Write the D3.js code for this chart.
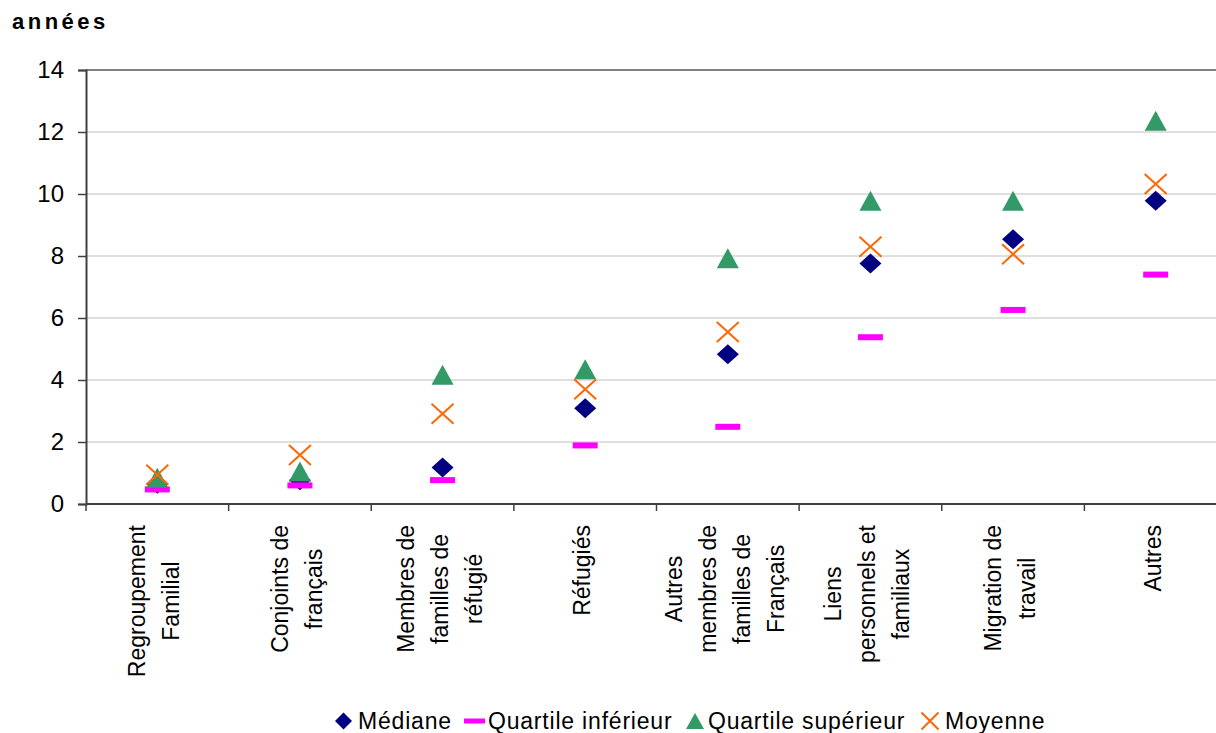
<!DOCTYPE html>
<html><head><meta charset="utf-8">
<script src="https://cdn.jsdelivr.net/npm/d3@7"></script>
<style>
html,body{margin:0;padding:0;background:#fff;}
svg{display:block;font-family:"Liberation Sans",Arial,sans-serif;}
</style></head>
<body><svg id="c" width="1216" height="733"></svg>
<script>
const categories = [
  ["Regroupement","Familial"],
  ["Conjoints de","français"],
  ["Membres de","familles de","réfugié"],
  ["Réfugiés"],
  ["Autres","membres de","familles de","Français"],
  ["Liens","personnels et","familiaux"],
  ["Migration de","travail"],
  ["Autres"]
];
const categoryKeys = categories.map(d => d.join(" "));
const mediane = [0.65, 0.77, 1.18, 3.09, 4.83, 7.76, 8.54, 9.78];
const quartileInf = [0.47, 0.6, 0.77, 1.89, 2.49, 5.38, 6.26, 7.4];
const quartileSup = [0.85, 1.05, 4.17, 4.35, 7.93, 9.78, 9.78, 12.36];
const moyenne = [0.94, 1.58, 2.91, 3.7, 5.55, 8.3, 8.06, 10.32];
const yTicks = [0, 2, 4, 6, 8, 10, 12, 14];
const yLabel = "années";
const seriesNames = ["Médiane", "Quartile inférieur", "Quartile supérieur", "Moyenne"];

const svg = d3.select("#c");
const L = 86, R = 1227, T = 70, B = 504;
const x = d3.scaleBand().domain(categoryKeys).range([L, R]);
const y = d3.scaleLinear().domain([0, 14]).range([B, T]);

// title
svg.append("text").attr("x", 12).attr("y", 29)
  .attr("font-weight", "bold").attr("font-size", 22).attr("letter-spacing", 3.5)
  .text(yLabel);

// gridlines
svg.append("g").selectAll("line").data(yTicks.filter(v => v > 0 && v < 14)).join("line")
  .attr("x1", L).attr("x2", R).attr("y1", d => y(d)).attr("y2", d => y(d))
  .attr("stroke", "#c0c0c0").attr("stroke-width", 1.2);
svg.append("line").attr("x1", L).attr("x2", R).attr("y1", y(14)).attr("y2", y(14))
  .attr("stroke", "#808080").attr("stroke-width", 2);

// y axis
const yAxis = d3.axisLeft(y).tickValues(yTicks).tickSize(8).tickPadding(14);
const gy = svg.append("g").attr("transform", `translate(${L},0)`).call(yAxis);
gy.select(".domain").attr("stroke", "#404040").attr("stroke-width", 2);
gy.selectAll(".tick line").attr("stroke", "#404040").attr("stroke-width", 1.5);
gy.selectAll(".tick text").attr("font-size", 24).attr("fill", "#000")
  .attr("font-family", "'Liberation Sans',Arial,sans-serif");

// x axis line and ticks at boundaries
svg.append("line").attr("x1", L).attr("x2", R).attr("y1", B).attr("y2", B)
  .attr("stroke", "#404040").attr("stroke-width", 2);
const bounds = categoryKeys.map(k => x(k)).concat([R]);
svg.append("g").selectAll("line").data(bounds).join("line")
  .attr("x1", d => d).attr("x2", d => d).attr("y1", B).attr("y2", B + 7)
  .attr("stroke", "#404040").attr("stroke-width", 1.5);

// category labels
const lineGap = 34;
categories.forEach((lines, i) => {
  const cx = x(categoryKeys[i]) + x.bandwidth() / 2;
  const g = svg.append("g");
  const texts = lines.map((t, j) => {
    const lx = cx + (j - (lines.length - 1) / 2) * lineGap + 5;
    return g.append("text").attr("font-size", 23).attr("text-anchor", "middle")
      .attr("data-x", lx).text(t);
  });
  const maxLen = d3.max(texts, t => t.node().getComputedTextLength());
  const cy = 525 + maxLen / 2;
  texts.forEach(t => {
    const lx = +t.attr("data-x");
    t.attr("transform", `translate(${lx},${cy}) rotate(-90)`);
  });
});

// markers
const cxOf = i => x(categoryKeys[i]) + x.bandwidth() / 2;
const marks = svg.append("g");
function diamond(g, cx, cy, w, h) {
  g.append("path").attr("d", `M${cx},${cy - h / 2}L${cx + w / 2},${cy}L${cx},${cy + h / 2}L${cx - w / 2},${cy}Z`)
    .attr("fill", "#000080");
}
function bar(g, cx, cy, w, h) {
  g.append("rect").attr("x", cx - w / 2).attr("y", cy - h / 2).attr("width", w).attr("height", h)
    .attr("fill", "#ff00ff");
}
function tri(g, cx, cy, w, h) {
  g.append("path").attr("d", `M${cx},${cy - h / 2}L${cx + w / 2},${cy + h / 2}L${cx - w / 2},${cy + h / 2}Z`)
    .attr("fill", "#339966");
}
function cross(g, cx, cy, w, h) {
  g.append("path").attr("d", `M${cx - w / 2},${cy - h / 2}L${cx + w / 2},${cy + h / 2}M${cx - w / 2},${cy + h / 2}L${cx + w / 2},${cy - h / 2}`)
    .attr("stroke", "#ff6600").attr("stroke-width", 2).attr("fill", "none");
}
mediane.forEach((v, i) => diamond(marks, cxOf(i), y(v), 22, 20));
quartileInf.forEach((v, i) => bar(marks, cxOf(i), y(v), 25, 6));
quartileSup.forEach((v, i) => tri(marks, cxOf(i), y(v), 22, 20));
moyenne.forEach((v, i) => cross(marks, cxOf(i), y(v), 22, 20));

// legend
const lg = svg.append("g");
const ly = 721;
const legendItems = [
  {name: seriesNames[0], draw: (g, cx) => diamond(g, cx, ly, 17, 17), mx: 343.5, tx: 358},
  {name: seriesNames[1], draw: (g, cx) => bar(g, cx, ly, 21, 5), mx: 474.5, tx: 488},
  {name: seriesNames[2], draw: (g, cx) => tri(g, cx, ly, 18, 16), mx: 695, tx: 708},
  {name: seriesNames[3], draw: (g, cx) => cross(g, cx, ly, 17, 17), mx: 930, tx: 945}
];
legendItems.forEach(it => {
  it.draw(lg, it.mx);
  lg.append("text").attr("x", it.tx).attr("y", 729).attr("font-size", 23)
    .attr("letter-spacing", 0.8).text(it.name);
});
</script></body></html>
